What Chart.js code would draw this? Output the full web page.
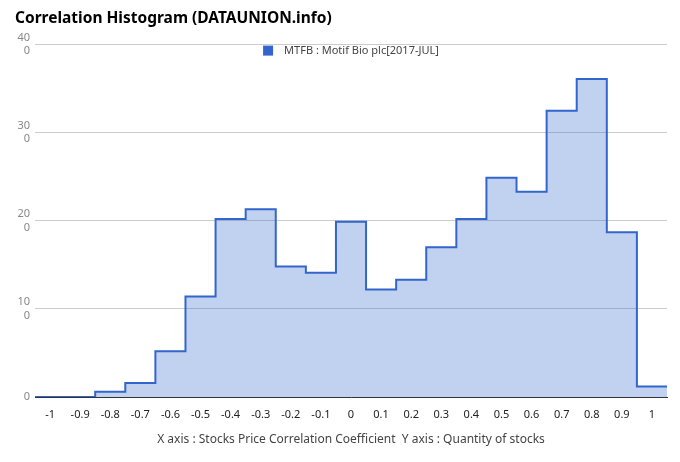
<!DOCTYPE html>
<html>
<head>
<meta charset="utf-8">
<script src="https://cdn.jsdelivr.net/npm/chart.js@4/dist/chart.umd.min.js"></script>
<style>
  html, body { margin: 0; padding: 0; background: #fff; }
  #wrap { width: 680px; height: 462px; }
</style>
</head>
<body>
<div id="wrap"><canvas id="graph"></canvas></div>
<script>
// correlation bins (centres) and stock counts per bin
var categories = [-1, -0.9, -0.8, -0.7, -0.6, -0.5, -0.4, -0.3, -0.2, -0.1, 0,
                  0.1, 0.2, 0.3, 0.4, 0.5, 0.6, 0.7, 0.8, 0.9, 1];
var counts = [0, 0, 6, 16, 52, 114, 202, 213, 148, 141, 199,
              122, 133, 170, 202, 249, 233, 325, 361, 187, 12];
var yTicks = [0, 100, 200, 300, 400];
var seriesName = "MTFB : Motif Bio plc[2017-JUL]";

// step edges: each bin drawn from its left edge to the next
var half = (categories[1] - categories[0]) / 2;
var points = categories.map(function (c, i) {
    return { x: c - half, y: counts[i] };
});
points.push({ x: categories[categories.length - 1] + half, y: counts[counts.length - 1] });

var FONT = "'Noto Sans', sans-serif";

/* legend drawn inside the plot, just under the top gridline */
var innerLegend = {
    id: "innerLegend",
    afterDraw: function (chart) {
        var ctx = chart.ctx;
        var area = chart.chartArea;
        var ds = chart.data.datasets[0];
        ctx.save();
        ctx.font = "11px " + FONT;
        var tw = ctx.measureText(ds.label).width;
        var total = 10 + 11 + tw;
        var x = (area.left + area.right) / 2 - total / 2;
        var y = area.top + 6;
        ctx.fillStyle = ds.borderColor;
        ctx.fillRect(x, y - 5, 10, 10);
        ctx.fillStyle = "#444";
        ctx.textBaseline = "middle";
        ctx.textAlign = "left";
        ctx.fillText(ds.label, x + 21, y);
        ctx.restore();
    }
};

var graph = document.getElementById("graph").getContext("2d");

var myChart = new Chart(graph, {
    type: "line",
    data: {
        datasets: [{
            label: seriesName,
            data: points,
            stepped: true,
            fill: "origin",
            backgroundColor: "rgba(51,102,204,0.3)",
            borderColor: "#3366CC",
            borderWidth: 2,
            pointRadius: 0,
            pointHoverRadius: 0,
        }],
    },
    plugins: [innerLegend],
    options: {
        responsive: true,
        maintainAspectRatio: false,
        animation: false,
        layout: {
            padding: { left: 15, right: 13, top: 0, bottom: 0 },
        },
        scales: {
            x: {
                type: "linear",
                min: categories[0] - half,
                max: categories[categories.length - 1] + half,
                afterBuildTicks: function (scale) {
                    scale.ticks = categories.map(function (v) { return { value: v }; });
                },
                afterFit: function (scale) {
                    scale.height = 65;
                },
                grid: { display: false },
                border: { display: true, color: "#333", width: 1 },
                ticks: {
                    color: "#222",
                    padding: 3,
                    maxRotation: 0,
                    autoSkip: false,
                    font: { family: FONT, size: 11 },
                    callback: function (v) { return String(Math.round(v * 10) / 10); },
                },
                title: {
                    display: true,
                    text: "X axis : Stocks Price Correlation Coefficient  Y axis : Quantity of stocks",
                    color: "#444",
                    font: { family: FONT, size: 12 },
                    padding: { top: 10, bottom: 15 },
                },
            },
            y: {
                min: yTicks[0],
                max: yTicks[yTicks.length - 1],
                afterBuildTicks: function (scale) {
                    scale.ticks = yTicks.map(function (v) { return { value: v }; });
                },
                afterFit: function (scale) {
                    scale.width = 20;
                },
                grid: { color: "#cccccc", drawTicks: false },
                border: { display: false },
                ticks: {
                    color: "#888",
                    padding: 5,
                    font: { family: FONT, size: 11 },
                    callback: function (v) {
                        var s = String(v);
                        // the source wraps 3-digit labels onto two lines
                        return s.length > 2 ? [s.slice(0, 2), s.slice(2)] : s;
                    },
                },
            },
        },
        plugins: {
            title: {
                display: true,
                text: "Correlation Histogram (DATAUNION.info)",
                align: "start",
                color: "#000",
                font: { family: FONT, size: 15.5, weight: "bold" },
                padding: { top: 9, bottom: 17 },
            },
            legend: { display: false },
            tooltip: { enabled: false },
        },
    },
});
</script>
</body>
</html>
